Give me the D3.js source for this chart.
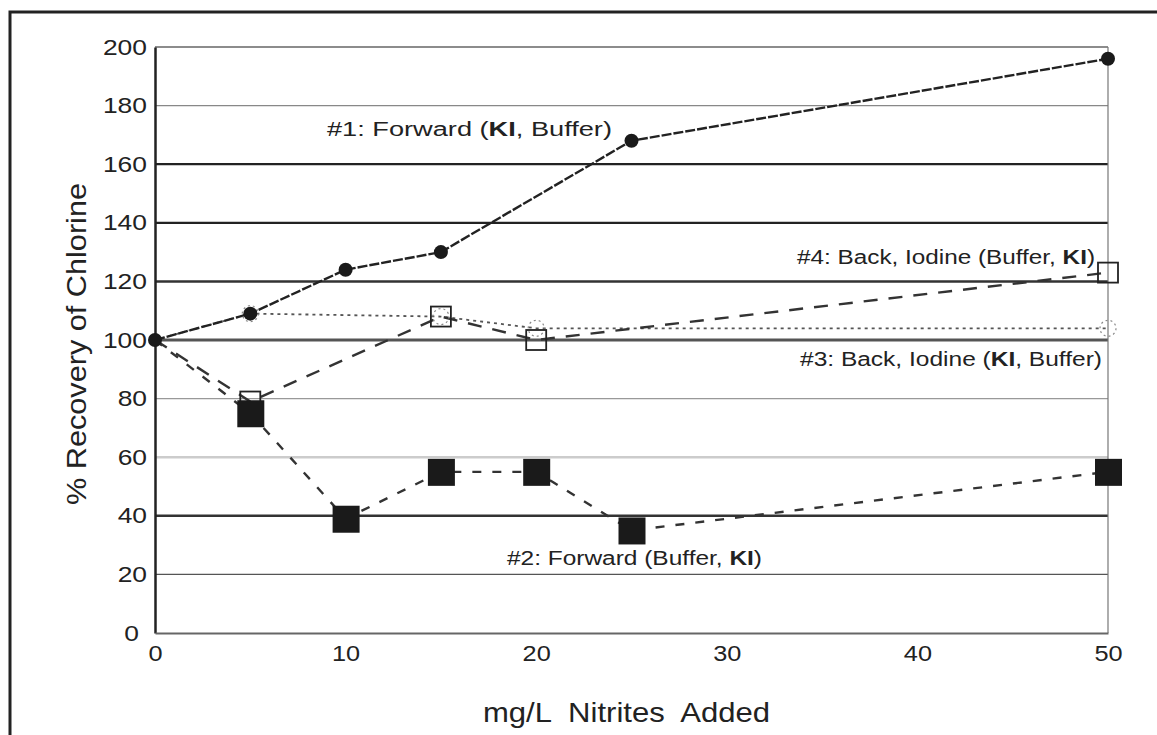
<!DOCTYPE html>
<html><head><meta charset="utf-8">
<script src="https://cdn.jsdelivr.net/npm/d3@7/dist/d3.min.js"></script>
<style>body{margin:0;background:#fff}svg{display:block}text{font-family:"Liberation Sans",Arial,sans-serif;fill:#222}</style>
</head><body><svg id="c" width="1157" height="735"></svg>
<script>
const xTicks = [0, 10, 20, 30, 40, 50];
const yTicks = [0, 20, 40, 60, 80, 100, 120, 140, 160, 180, 200];
const s1x = [0, 5, 10, 15, 25, 50];
const s1y = [100, 109, 124, 130, 168, 196];
const s2x = [0, 5, 10, 15, 20, 25, 50];
const s2y = [100, 75, 39, 55, 55, 35, 55];
const s3x = [0, 5, 15, 20, 50];
const s3y = [100, 109, 108, 104, 104];
const s4x = [0, 5, 15, 20, 50];
const s4y = [100, 79, 108, 100, 123];
const labels = ["#1: Forward (KI, Buffer)", "#2: Forward (Buffer, KI)", "#3: Back, Iodine (KI, Buffer)", "#4: Back, Iodine (Buffer, KI)"];
const xTitle = "mg/L  Nitrites  Added";
const yTitle = "% Recovery of Chlorine";

const svg = d3.select("#c");
const x = d3.scaleLinear().domain([0, 50]).range([155, 1108]);
const y = d3.scaleLinear().domain([0, 200]).range([633, 47]);

// outer frame
svg.append("path").attr("d","M10,760 V12 H1170").attr("fill","none").attr("stroke","#222").attr("stroke-width",3);

// gridlines
const gstyle = {200:["#666",1.5],180:["#888",1.2],160:["#222",2.2],140:["#222",2.2],120:["#333",2.5],100:["#555",3],80:["#999",1.2],60:["#ccc",2.5],40:["#333",2.5],20:["#555",1.2]};
svg.append("g").selectAll("line").data(yTicks.filter(d=>d>0)).join("line")
  .attr("x1",x(0)).attr("x2",x(50)).attr("y1",d=>y(d)).attr("y2",d=>y(d))
  .attr("stroke",d=>gstyle[d][0]).attr("stroke-width",d=>gstyle[d][1]);
svg.append("line").attr("x1",x(50)).attr("x2",x(50)).attr("y1",y(200)).attr("y2",y(0)).attr("stroke","#777").attr("stroke-width",1.2);

function stretch(sel, k){
  sel.each(function(){
    const w = this.getComputedTextLength();
    d3.select(this).attr("textLength", w*k).attr("lengthAdjust","spacingAndGlyphs");
  });
}

// axes
const ya = svg.append("g").attr("transform",`translate(${x(0)},0)`)
  .call(d3.axisLeft(y).tickValues(yTicks).tickSize(0).tickPadding(8));
ya.select(".domain").attr("stroke","#222").attr("stroke-width",2.5);
ya.selectAll("text").style("font-size","22px").attr("fill","#222").attr("font-family",null);
ya.selectAll(".tick").filter(d=>d===0).select("text").attr("dx",-8);
stretch(ya.selectAll("text"), 1.2);
const xa = svg.append("g").attr("transform",`translate(0,${y(0)})`)
  .call(d3.axisBottom(x).tickValues(xTicks).tickSize(0).tickPadding(12));
xa.select(".domain").attr("stroke","#666").attr("stroke-width",2);
xa.selectAll("text").style("font-size","22px").attr("fill","#222").attr("font-family",null);
stretch(xa.selectAll("text"), 1.15);

// titles
svg.append("text").attr("x",483).attr("y",722).style("font-size","28px").style("white-space","pre")
  .attr("textLength",287).attr("lengthAdjust","spacingAndGlyphs").text(xTitle);
svg.append("text").attr("transform","translate(86,505) rotate(-90)").style("font-size","27px")
  .attr("textLength",322).attr("lengthAdjust","spacingAndGlyphs").text(yTitle);

const line = d3.line().x(d=>x(d[0])).y(d=>y(d[1]));
const zip = (a,b)=>a.map((v,i)=>[v,b[i]]);
const d1 = zip(s1x,s1y), d2 = zip(s2x,s2y), d3p = zip(s3x,s3y), d4 = zip(s4x,s4y);

// lines
svg.append("path").attr("d",line(d3p)).attr("fill","none").attr("stroke","#555").attr("stroke-width",1.8).attr("stroke-dasharray","3,4");
svg.append("path").attr("d",line(d4)).attr("fill","none").attr("stroke","#333").attr("stroke-width",2.4).attr("stroke-dasharray","14,11");
svg.append("path").attr("d",line(d2)).attr("fill","none").attr("stroke","#333").attr("stroke-width",2.4).attr("stroke-dasharray","9,11");
svg.append("path").attr("d",line(d1)).attr("fill","none").attr("stroke","#222").attr("stroke-width",2.4).attr("stroke-dasharray","10,2");

// markers
svg.append("g").selectAll("circle").data(d3p.slice(1)).join("circle")
  .attr("cx",d=>x(d[0])).attr("cy",d=>y(d[1])).attr("r",8).attr("fill","none").attr("stroke","#888").attr("stroke-width",1.2).attr("stroke-dasharray","2,3");
svg.append("g").selectAll("rect").data(d4.slice(1)).join("rect")
  .attr("x",d=>x(d[0])-10).attr("y",d=>y(d[1])-10).attr("width",20).attr("height",20).attr("fill","none").attr("stroke","#222").attr("stroke-width",1.8);
svg.append("g").selectAll("rect").data(d2.slice(1)).join("rect")
  .attr("x",d=>x(d[0])-13).attr("y",d=>y(d[1])-13).attr("width",27).attr("height",27).attr("fill","#1a1a1a");
svg.append("g").selectAll("circle").data(d1).join("circle")
  .attr("cx",d=>x(d[0])).attr("cy",d=>y(d[1])).attr("r",7).attr("fill","#1a1a1a");

// labels
function lab(txt, xx, yy, len){
  const t = svg.append("text").attr("x",xx).attr("y",yy).style("font-size","20px")
    .attr("textLength",len).attr("lengthAdjust","spacingAndGlyphs");
  const parts = txt.split("KI");
  parts.forEach((p,i)=>{
    t.append("tspan").text(p);
    if(i<parts.length-1) t.append("tspan").style("font-weight","bold").text("KI");
  });
}
lab(labels[0], 327, 136, 285);
lab(labels[1], 507, 565, 255);
lab(labels[2], 800, 366, 302);
lab(labels[3], 797, 264, 298);
</script></body></html>
